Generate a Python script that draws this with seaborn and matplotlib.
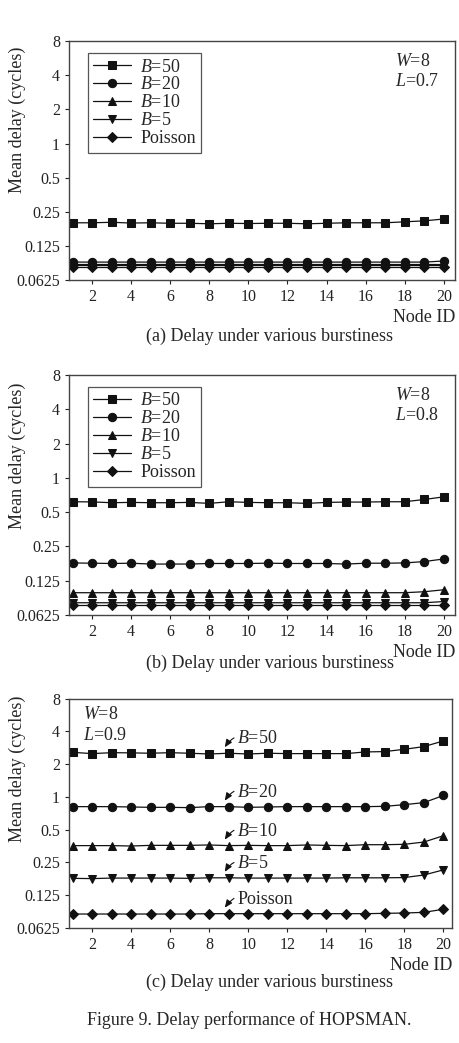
import numpy as np
import pandas as pd
import seaborn as sns
import matplotlib
matplotlib.use("Agg")
import matplotlib.pyplot as plt
from matplotlib.transforms import offset_copy

# node IDs and delays
nodes = list(range(1, 21))
series_names = ["B=50", "B=20", "B=10", "B=5", "Poisson"]

# (a) L=0.7
a_b50 = [0.200, 0.200, 0.202, 0.199, 0.200, 0.198, 0.198, 0.196, 0.198, 0.197,
         0.198, 0.198, 0.196, 0.198, 0.200, 0.200, 0.200, 0.204, 0.208, 0.216]
a_b20 = [0.090] * 19 + [0.092]
a_b10 = [0.086] * 20
a_b5 = [0.084] * 20
a_poisson = [0.082] * 20

# (b) L=0.8
b_b50 = [0.617, 0.615, 0.605, 0.609, 0.605, 0.605, 0.609, 0.597, 0.617, 0.609,
         0.605, 0.605, 0.597, 0.609, 0.613, 0.613, 0.617, 0.617, 0.646, 0.681]
b_b20 = [0.179, 0.178, 0.177, 0.178, 0.175, 0.175, 0.175, 0.177, 0.177, 0.177,
         0.178, 0.177, 0.177, 0.177, 0.175, 0.178, 0.178, 0.179, 0.184, 0.194]
b_b10 = [0.098] * 18 + [0.100, 0.104]
b_b5 = [0.080] * 19 + [0.082]
b_poisson = [0.077] * 20

# (c) L=0.9
c_b50 = [2.57, 2.50, 2.55, 2.54, 2.52, 2.55, 2.52, 2.48, 2.52, 2.48,
         2.52, 2.50, 2.50, 2.50, 2.50, 2.59, 2.61, 2.74, 2.90, 3.27]
c_b20 = [0.813, 0.813, 0.813, 0.807, 0.801, 0.801, 0.796, 0.813, 0.813, 0.801,
         0.807, 0.813, 0.813, 0.813, 0.813, 0.813, 0.818, 0.848, 0.885, 1.03]
c_b10 = [0.356, 0.356, 0.356, 0.353, 0.358, 0.358, 0.358, 0.361, 0.356, 0.358,
         0.356, 0.356, 0.361, 0.358, 0.356, 0.363, 0.363, 0.366, 0.384, 0.439]
c_b5 = [0.178, 0.177, 0.179, 0.179, 0.179, 0.179, 0.178, 0.180, 0.180, 0.179,
        0.179, 0.179, 0.179, 0.179, 0.180, 0.180, 0.180, 0.181, 0.191, 0.213]
c_poisson = [0.0836] * 7 + [0.0842] * 9 + [0.0848, 0.0854, 0.0866, 0.0925]

ytick_vals = [0.0625, 0.125, 0.25, 0.5, 1, 2, 4, 8]
ytick_labels = ["0.0625", "0.125", "0.25", "0.5", "1", "2", "4", "8"]
xtick_vals = list(range(2, 21, 2))

panels = [
    ([a_b50, a_b20, a_b10, a_b5, a_poisson], "0.7", "(a) Delay under various burstiness"),
    ([b_b50, b_b20, b_b10, b_b5, b_poisson], "0.8", "(b) Delay under various burstiness"),
    ([c_b50, c_b20, c_b10, c_b5, c_poisson], "0.9", "(c) Delay under various burstiness"),
]

sns.set_style("ticks")
plt.rcParams["font.family"] = ["Liberation Serif", "DejaVu Serif"]
plt.rcParams["mathtext.fontset"] = "custom"
plt.rcParams["mathtext.it"] = "Liberation Serif:italic"
plt.rcParams["mathtext.rm"] = "Liberation Serif"

markers = ["s", "o", "^", "v", "D"]
msizes = [5.5, 6, 6, 6, 5]
labels = [r"$B$=50", r"$B$=20", r"$B$=10", r"$B$=5", "Poisson"]

fig = plt.figure(figsize=(4.6, 10.43), dpi=100)
positions = [
    [0.150, 0.7315, 0.839, 0.229],
    [0.150, 0.4104, 0.839, 0.230],
    [0.150, 0.1105, 0.833, 0.2196],
]
ylabel_y = [0.67, 0.664, 0.693]
caption_y = [1 - 336 / 1043, 1 - 663 / 1043, 1 - 982 / 1043]

for i, (vals, load, caption) in enumerate(panels):
    ax = fig.add_axes(positions[i])
    rows = []
    for name, v in zip(series_names, vals):
        for n, d in zip(nodes, v):
            rows.append({"node": n, "delay": d, "series": name})
    df = pd.DataFrame(rows)
    for k, name in enumerate(series_names):
        sns.lineplot(data=df[df["series"] == name], x="node", y="delay",
                     marker=markers[k], markersize=msizes[k], color="#111111",
                     markeredgecolor="#111111", linewidth=0.9, label=labels[k],
                     ax=ax, legend=False)

    ax.set_yscale("log", base=2)
    ax.set_ylim(0.0625, 8)
    ax.set_yticks(ytick_vals)
    ax.set_yticklabels(ytick_labels)
    ax.minorticks_off()
    ax.set_xlim(0.82, 20.57 if i < 2 else 20.45)
    ax.set_xticks(xtick_vals)
    ax.tick_params(labelsize=11.5, length=3, width=0.8, colors="#222222")
    for s in ax.spines.values():
        s.set_color("#444444")
        s.set_linewidth(1.0)
    ax.set_ylabel("Mean delay (cycles)", fontsize=13)
    ax.yaxis.set_label_coords(-0.111, ylabel_y[i])
    ax.set_xlabel("Node ID", fontsize=13, loc="right", labelpad=3)

    if i < 2:
        leg = ax.legend(loc="upper left", bbox_to_anchor=(0.049, 0.95),
                        borderaxespad=0, fontsize=13, labelspacing=0.05,
                        handlelength=2.1, handletextpad=0.5, borderpad=0.3,
                        fancybox=False, framealpha=1)
        leg.get_frame().set_edgecolor("#555555")
        leg.get_frame().set_linewidth(0.9)
        ax.text(0.845, 0.915, r"$W$=8", transform=ax.transAxes, fontsize=13,
                va="center", ha="left")
        ax.text(0.845, 0.833, r"$L$=" + load, transform=ax.transAxes, fontsize=13,
                va="center", ha="left")
    else:
        ax.text(0.037, 0.929, r"$W$=8", transform=ax.transAxes, fontsize=13,
                va="center", ha="left")
        ax.text(0.037, 0.838, r"$L$=" + load, transform=ax.transAxes, fontsize=13,
                va="center", ha="left")
        # curved pointers to each curve near node 9
        tip = offset_copy(ax.transData, fig=fig, x=0, y=6, units="dots")
        for k in range(5):
            yv = vals[k][8]
            ax.annotate(labels[k], xy=(8.8, yv), xycoords=tip,
                        xytext=(9.0, 6.0), textcoords="offset points",
                        fontsize=13, va="center", ha="left",
                        arrowprops=dict(arrowstyle="-|>,head_length=0.35,head_width=0.15",
                                        color="#111111", lw=0.8, shrinkA=0,
                                        shrinkB=0,
                                        connectionstyle="arc3,rad=0.45"))

    fig.text(270 / 460, caption_y[i], caption, fontsize=13, ha="center", va="center")

fig.text(249 / 460, 1 - 1020 / 1043, "Figure 9. Delay performance of HOPSMAN.",
         fontsize=13, ha="center", va="center")

plt.savefig("out.png", dpi=100)
plt.close()
